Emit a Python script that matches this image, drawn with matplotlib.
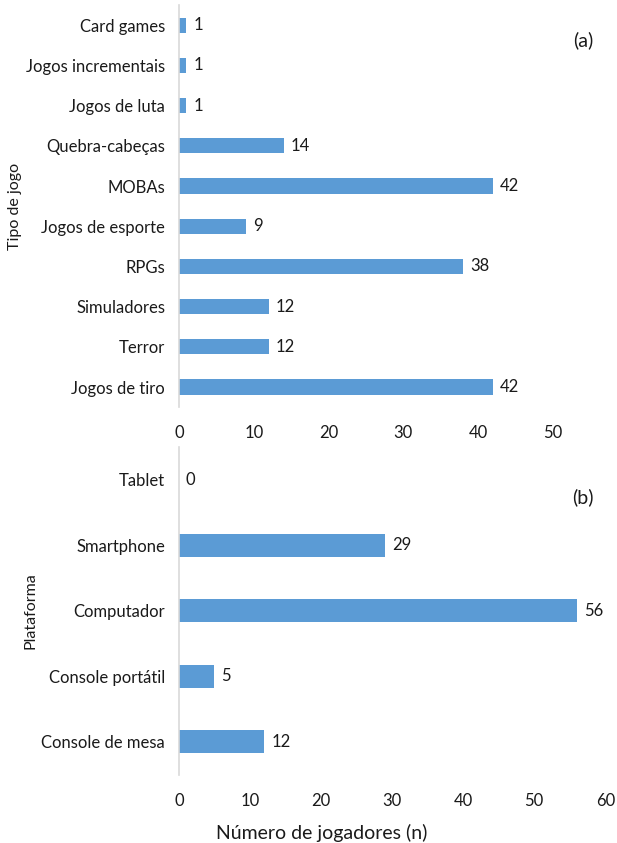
import matplotlib.pyplot as plt

plt.rcParams['font.family'] = ['Lato', 'DejaVu Sans']

# painel (a) - tipo de jogo (de baixo para cima)
tipos = ['Jogos de tiro', 'Terror', 'Simuladores', 'RPGs', 'Jogos de esporte',
         'MOBAs', 'Quebra-cabeças', 'Jogos de luta', 'Jogos incrementais', 'Card games']
n_tipos = [42, 12, 12, 38, 9, 42, 14, 1, 1, 1]

# painel (b) - plataforma
plataformas = ['Console de mesa', 'Console portátil', 'Computador', 'Smartphone', 'Tablet']
n_plat = [12, 5, 56, 29, 0]

azul = '#5B9BD5'
cinza = '#D9D9D9'
txt = '#1a1a1a'

fig = plt.figure(figsize=(6.17, 8.43), dpi=100)
ax1 = fig.add_axes([0.290, 0.517, 0.691, 0.477])
ax2 = fig.add_axes([0.290, 0.081, 0.691, 0.389])


def painel(ax, cats, vals, alt, xmax, xticks, ylab, ylx, tag, tagy):
    ax.barh(range(len(cats)), vals, height=alt, color=azul)
    for i, v in enumerate(vals):
        ax.annotate(str(v), (v, i), xytext=(5, 0), textcoords='offset points',
                    va='center', ha='left', fontsize=12, color=txt)
    ax.set_yticks(range(len(cats)))
    ax.set_yticklabels(cats, fontsize=12, color=txt)
    ax.set_ylim(-0.5, len(cats) - 0.5)
    ax.set_xlim(0, xmax)
    ax.set_xticks(xticks)
    ax.set_xticklabels([str(t) for t in xticks], fontsize=12, color=txt)
    ax.tick_params(length=0, pad=10)
    ax.tick_params(axis='x', pad=13)
    for s in ['top', 'right', 'bottom']:
        ax.spines[s].set_visible(False)
    ax.spines['left'].set_color(cinza)
    ax.spines['left'].set_linewidth(1.2)
    ax.set_ylabel(ylab, fontsize=11.5, color=txt)
    ax.yaxis.set_label_coords(ylx, 0.5)
    ax.text(0.948, tagy, tag, transform=ax.transAxes, fontsize=14, color=txt,
            ha='center', va='center')


painel(ax1, tipos, n_tipos, 0.38, 57, [0, 10, 20, 30, 40, 50],
       'Tipo de jogo', -0.368, '(a)', 0.913)
painel(ax2, plataformas, n_plat, 0.35, 60, [0, 10, 20, 30, 40, 50, 60],
       'Plataforma', -0.331, '(b)', 0.845)
fig.text(322 / 617, 1 - 833 / 843, 'Número de jogadores (n)', fontsize=14,
         color=txt, ha='center', va='center')

fig.savefig('out.png', dpi=100)
